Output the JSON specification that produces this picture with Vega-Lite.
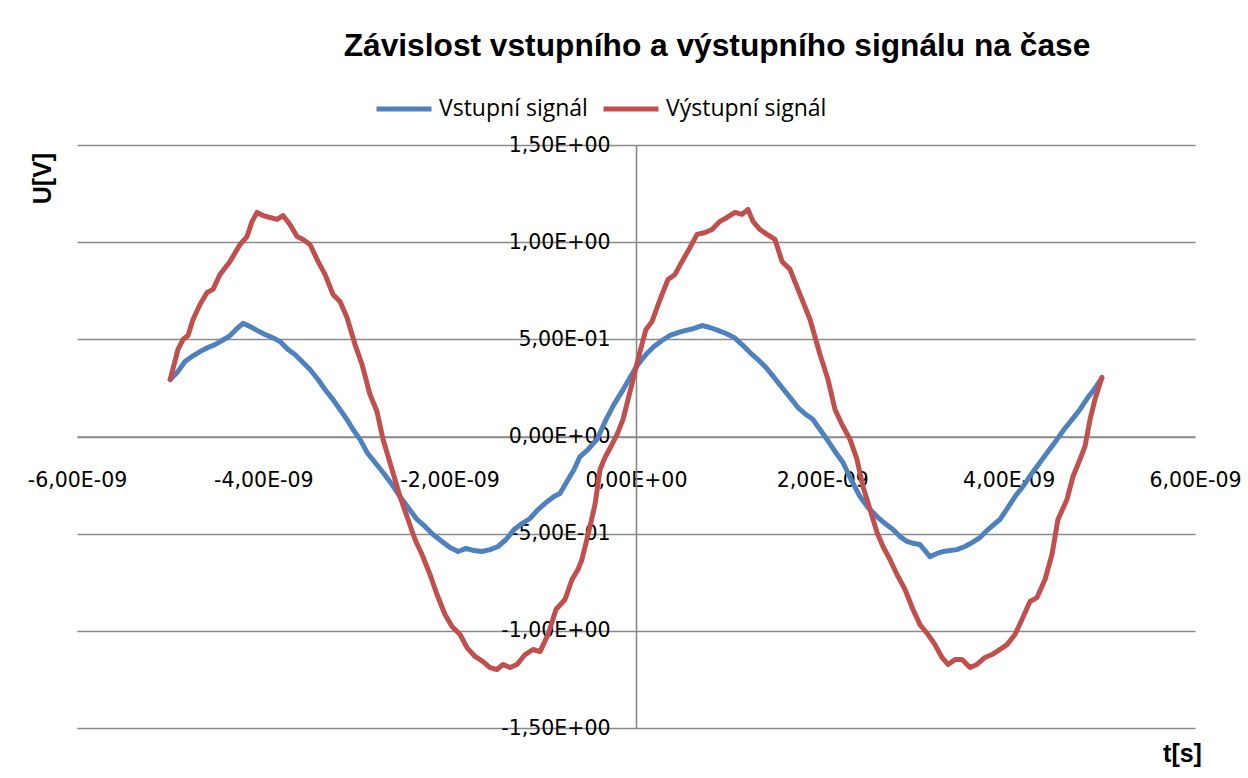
{
"$schema":"https://vega.github.io/schema/vega-lite/v6.json",
"width":1118,"height":583,
"autosize":{"type":"none"},
"padding":{"left":77,"top":145,"right":53,"bottom":50},
"background":"white",
"config":{"view":{"stroke":null}},
"title":{"text":"Závislost vstupního a výstupního signálu na čase","font":"Liberation Sans","fontSize":31.7,"fontWeight":"bold","color":"#000000","anchor":"middle","frame":"group","dx":81,"offset":-9,"baseline":"alphabetic"},
"data":{"values":[
{"s":"Vstupní signál","t":-5.0,"u":0.293},{"s":"Vstupní signál","t":-4.916,"u":0.335},{"s":"Vstupní signál","t":-4.841,"u":0.386},{"s":"Vstupní signál","t":-4.765,"u":0.412},{"s":"Vstupní signál","t":-4.68,"u":0.437},{"s":"Vstupní signál","t":-4.594,"u":0.458},{"s":"Vstupní signál","t":-4.519,"u":0.473},{"s":"Vstupní signál","t":-4.443,"u":0.494},{"s":"Vstupní signál","t":-4.368,"u":0.515},{"s":"Vstupní signál","t":-4.293,"u":0.551},{"s":"Vstupní signál","t":-4.218,"u":0.582},{"s":"Vstupní signál","t":-4.143,"u":0.566},{"s":"Vstupní signál","t":-4.068,"u":0.546},{"s":"Vstupní signál","t":-3.982,"u":0.525},{"s":"Vstupní signál","t":-3.907,"u":0.51},{"s":"Vstupní signál","t":-3.821,"u":0.489},{"s":"Vstupní signál","t":-3.735,"u":0.448},{"s":"Vstupní signál","t":-3.66,"u":0.422},{"s":"Vstupní signál","t":-3.585,"u":0.386},{"s":"Vstupní signál","t":-3.499,"u":0.345},{"s":"Vstupní signál","t":-3.413,"u":0.293},{"s":"Vstupní signál","t":-3.338,"u":0.242},{"s":"Vstupní signál","t":-3.252,"u":0.19},{"s":"Vstupní signál","t":-3.177,"u":0.139},{"s":"Vstupní signál","t":-3.102,"u":0.087},{"s":"Vstupní signál","t":-3.037,"u":0.036},{"s":"Vstupní signál","t":-2.962,"u":-0.015},{"s":"Vstupní signál","t":-2.887,"u":-0.082},{"s":"Vstupní signál","t":-2.801,"u":-0.134},{"s":"Vstupní signál","t":-2.715,"u":-0.185},{"s":"Vstupní signál","t":-2.619,"u":-0.247},{"s":"Vstupní signál","t":-2.533,"u":-0.309},{"s":"Vstupní signál","t":-2.447,"u":-0.365},{"s":"Vstupní signál","t":-2.351,"u":-0.427},{"s":"Vstupní signál","t":-2.265,"u":-0.463},{"s":"Vstupní signál","t":-2.179,"u":-0.504},{"s":"Vstupní signál","t":-2.082,"u":-0.54},{"s":"Vstupní signál","t":-1.996,"u":-0.571},{"s":"Vstupní signál","t":-1.91,"u":-0.592},{"s":"Vstupní signál","t":-1.825,"u":-0.576},{"s":"Vstupní signál","t":-1.739,"u":-0.587},{"s":"Vstupní signál","t":-1.653,"u":-0.592},{"s":"Vstupní signál","t":-1.567,"u":-0.582},{"s":"Vstupní signál","t":-1.481,"u":-0.566},{"s":"Vstupní signál","t":-1.395,"u":-0.53},{"s":"Vstupní signál","t":-1.309,"u":-0.479},{"s":"Vstupní signál","t":-1.224,"u":-0.448},{"s":"Vstupní signál","t":-1.138,"u":-0.422},{"s":"Vstupní signál","t":-1.052,"u":-0.376},{"s":"Vstupní signál","t":-0.966,"u":-0.34},{"s":"Vstupní signál","t":-0.88,"u":-0.309},{"s":"Vstupní signál","t":-0.816,"u":-0.293},{"s":"Vstupní signál","t":-0.741,"u":-0.232},{"s":"Vstupní signál","t":-0.665,"u":-0.17},{"s":"Vstupní signál","t":-0.601,"u":-0.103},{"s":"Vstupní signál","t":-0.515,"u":-0.067},{"s":"Vstupní signál","t":-0.419,"u":-0.015},{"s":"Vstupní signál","t":-0.322,"u":0.087},{"s":"Vstupní signál","t":-0.236,"u":0.165},{"s":"Vstupní signál","t":-0.15,"u":0.232},{"s":"Vstupní signál","t":-0.064,"u":0.304},{"s":"Vstupní signál","t":0.021,"u":0.371},{"s":"Vstupní signál","t":0.107,"u":0.422},{"s":"Vstupní signál","t":0.193,"u":0.463},{"s":"Vstupní signál","t":0.279,"u":0.494},{"s":"Vstupní signál","t":0.365,"u":0.52},{"s":"Vstupní signál","t":0.451,"u":0.535},{"s":"Vstupní signál","t":0.537,"u":0.546},{"s":"Vstupní signál","t":0.623,"u":0.556},{"s":"Vstupní signál","t":0.708,"u":0.571},{"s":"Vstupní signál","t":0.794,"u":0.561},{"s":"Vstupní signál","t":0.88,"u":0.546},{"s":"Vstupní signál","t":0.966,"u":0.53},{"s":"Vstupní signál","t":1.052,"u":0.51},{"s":"Vstupní signál","t":1.138,"u":0.473},{"s":"Vstupní signál","t":1.224,"u":0.432},{"s":"Vstupní signál","t":1.309,"u":0.396},{"s":"Vstupní signál","t":1.395,"u":0.355},{"s":"Vstupní signál","t":1.481,"u":0.304},{"s":"Vstupní signál","t":1.567,"u":0.252},{"s":"Vstupní signál","t":1.653,"u":0.201},{"s":"Vstupní signál","t":1.739,"u":0.149},{"s":"Vstupní signál","t":1.825,"u":0.113},{"s":"Vstupní signál","t":1.9,"u":0.087},{"s":"Vstupní signál","t":1.975,"u":0.036},{"s":"Vstupní signál","t":2.05,"u":-0.015},{"s":"Vstupní signál","t":2.136,"u":-0.077},{"s":"Vstupní signál","t":2.222,"u":-0.134},{"s":"Vstupní signál","t":2.308,"u":-0.221},{"s":"Vstupní signál","t":2.404,"u":-0.309},{"s":"Vstupní signál","t":2.49,"u":-0.365},{"s":"Vstupní signál","t":2.587,"u":-0.412},{"s":"Vstupní signál","t":2.673,"u":-0.448},{"s":"Vstupní signál","t":2.758,"u":-0.479},{"s":"Vstupní signál","t":2.834,"u":-0.515},{"s":"Vstupní signál","t":2.909,"u":-0.54},{"s":"Vstupní signál","t":2.984,"u":-0.551},{"s":"Vstupní signál","t":3.048,"u":-0.556},{"s":"Vstupní signál","t":3.102,"u":-0.587},{"s":"Vstupní signál","t":3.155,"u":-0.618},{"s":"Vstupní signál","t":3.231,"u":-0.602},{"s":"Vstupní signál","t":3.295,"u":-0.592},{"s":"Vstupní signál","t":3.37,"u":-0.587},{"s":"Vstupní signál","t":3.445,"u":-0.582},{"s":"Vstupní signál","t":3.531,"u":-0.566},{"s":"Vstupní signál","t":3.606,"u":-0.546},{"s":"Vstupní signál","t":3.692,"u":-0.52},{"s":"Vstupní signál","t":3.778,"u":-0.479},{"s":"Vstupní signál","t":3.853,"u":-0.448},{"s":"Vstupní signál","t":3.907,"u":-0.427},{"s":"Vstupní signál","t":3.993,"u":-0.365},{"s":"Vstupní signál","t":4.068,"u":-0.309},{"s":"Vstupní signál","t":4.154,"u":-0.257},{"s":"Vstupní signál","t":4.24,"u":-0.196},{"s":"Vstupní signál","t":4.336,"u":-0.134},{"s":"Vstupní signál","t":4.422,"u":-0.077},{"s":"Vstupní signál","t":4.519,"u":-0.015},{"s":"Vstupní signál","t":4.594,"u":0.036},{"s":"Vstupní signál","t":4.68,"u":0.087},{"s":"Vstupní signál","t":4.765,"u":0.139},{"s":"Vstupní signál","t":4.851,"u":0.201},{"s":"Vstupní signál","t":4.916,"u":0.242},{"s":"Vstupní signál","t":5.0,"u":0.3},
{"s":"Výstupní signál","t":-5.0,"u":0.293},{"s":"Výstupní signál","t":-4.916,"u":0.448},{"s":"Výstupní signál","t":-4.862,"u":0.499},{"s":"Výstupní signál","t":-4.808,"u":0.52},{"s":"Výstupní signál","t":-4.755,"u":0.602},{"s":"Výstupní signál","t":-4.68,"u":0.679},{"s":"Výstupní signál","t":-4.604,"u":0.741},{"s":"Výstupní signál","t":-4.54,"u":0.757},{"s":"Výstupní signál","t":-4.465,"u":0.834},{"s":"Výstupní signál","t":-4.358,"u":0.901},{"s":"Výstupní signál","t":-4.25,"u":0.988},{"s":"Výstupní signál","t":-4.175,"u":1.029},{"s":"Výstupní signál","t":-4.121,"u":1.107},{"s":"Výstupní signál","t":-4.068,"u":1.153},{"s":"Výstupní signál","t":-4.003,"u":1.137},{"s":"Výstupní signál","t":-3.928,"u":1.127},{"s":"Výstupní signál","t":-3.853,"u":1.117},{"s":"Výstupní signál","t":-3.789,"u":1.137},{"s":"Výstupní signál","t":-3.714,"u":1.091},{"s":"Výstupní signál","t":-3.638,"u":1.029},{"s":"Výstupní signál","t":-3.574,"u":1.014},{"s":"Výstupní signál","t":-3.499,"u":0.988},{"s":"Výstupní signál","t":-3.413,"u":0.901},{"s":"Výstupní signál","t":-3.338,"u":0.834},{"s":"Výstupní signál","t":-3.252,"u":0.731},{"s":"Výstupní signál","t":-3.177,"u":0.695},{"s":"Výstupní signál","t":-3.102,"u":0.612},{"s":"Výstupní signál","t":-3.016,"u":0.473},{"s":"Výstupní signál","t":-2.941,"u":0.371},{"s":"Výstupní signál","t":-2.855,"u":0.216},{"s":"Výstupní signál","t":-2.78,"u":0.129},{"s":"Výstupní signál","t":-2.715,"u":-0.015},{"s":"Výstupní signál","t":-2.619,"u":-0.17},{"s":"Výstupní signál","t":-2.533,"u":-0.309},{"s":"Výstupní signál","t":-2.447,"u":-0.427},{"s":"Výstupní signál","t":-2.372,"u":-0.53},{"s":"Výstupní signál","t":-2.297,"u":-0.607},{"s":"Výstupní signál","t":-2.211,"u":-0.71},{"s":"Výstupní signál","t":-2.136,"u":-0.813},{"s":"Výstupní signál","t":-2.05,"u":-0.916},{"s":"Výstupní signál","t":-1.975,"u":-0.978},{"s":"Výstupní signál","t":-1.889,"u":-1.019},{"s":"Výstupní signál","t":-1.814,"u":-1.086},{"s":"Výstupní signál","t":-1.728,"u":-1.132},{"s":"Výstupní signál","t":-1.642,"u":-1.158},{"s":"Výstupní signál","t":-1.567,"u":-1.189},{"s":"Výstupní signál","t":-1.492,"u":-1.199},{"s":"Výstupní signál","t":-1.427,"u":-1.173},{"s":"Výstupní signál","t":-1.352,"u":-1.189},{"s":"Výstupní signál","t":-1.277,"u":-1.173},{"s":"Výstupní signál","t":-1.191,"u":-1.122},{"s":"Výstupní signál","t":-1.106,"u":-1.096},{"s":"Výstupní signál","t":-1.03,"u":-1.107},{"s":"Výstupní signál","t":-0.944,"u":-1.019},{"s":"Výstupní signál","t":-0.859,"u":-0.89},{"s":"Výstupní signál","t":-0.762,"u":-0.839},{"s":"Výstupní signál","t":-0.687,"u":-0.736},{"s":"Výstupní signál","t":-0.623,"u":-0.685},{"s":"Výstupní signál","t":-0.58,"u":-0.633},{"s":"Výstupní signál","t":-0.494,"u":-0.463},{"s":"Výstupní signál","t":-0.44,"u":-0.35},{"s":"Výstupní signál","t":-0.386,"u":-0.17},{"s":"Výstupní signál","t":-0.333,"u":-0.108},{"s":"Výstupní signál","t":-0.258,"u":-0.041},{"s":"Výstupní signál","t":-0.204,"u":0.01},{"s":"Výstupní signál","t":-0.14,"u":0.087},{"s":"Výstupní signál","t":-0.086,"u":0.19},{"s":"Výstupní signál","t":-0.032,"u":0.293},{"s":"Výstupní signál","t":0.043,"u":0.437},{"s":"Výstupní signál","t":0.107,"u":0.551},{"s":"Výstupní signál","t":0.172,"u":0.592},{"s":"Výstupní signál","t":0.258,"u":0.705},{"s":"Výstupní signál","t":0.343,"u":0.808},{"s":"Výstupní signál","t":0.419,"u":0.834},{"s":"Výstupní signál","t":0.494,"u":0.901},{"s":"Výstupní signál","t":0.58,"u":0.973},{"s":"Výstupní signál","t":0.655,"u":1.04},{"s":"Výstupní signál","t":0.741,"u":1.05},{"s":"Výstupní signál","t":0.816,"u":1.065},{"s":"Výstupní signál","t":0.902,"u":1.107},{"s":"Výstupní signál","t":0.977,"u":1.127},{"s":"Výstupní signál","t":1.063,"u":1.153},{"s":"Výstupní signál","t":1.138,"u":1.143},{"s":"Výstupní signál","t":1.202,"u":1.168},{"s":"Výstupní signál","t":1.256,"u":1.107},{"s":"Výstupní signál","t":1.331,"u":1.065},{"s":"Výstupní signál","t":1.406,"u":1.04},{"s":"Výstupní signál","t":1.492,"u":1.014},{"s":"Výstupní signál","t":1.567,"u":0.901},{"s":"Výstupní signál","t":1.653,"u":0.86},{"s":"Výstupní signál","t":1.76,"u":0.731},{"s":"Výstupní signál","t":1.868,"u":0.602},{"s":"Výstupní signál","t":1.975,"u":0.422},{"s":"Výstupní signál","t":2.061,"u":0.293},{"s":"Výstupní signál","t":2.136,"u":0.139},{"s":"Výstupní signál","t":2.211,"u":0.062},{"s":"Výstupní signál","t":2.297,"u":-0.015},{"s":"Výstupní signál","t":2.372,"u":-0.118},{"s":"Výstupní signál","t":2.436,"u":-0.257},{"s":"Výstupní signál","t":2.512,"u":-0.376},{"s":"Výstupní signál","t":2.587,"u":-0.494},{"s":"Výstupní signál","t":2.651,"u":-0.566},{"s":"Výstupní signál","t":2.726,"u":-0.633},{"s":"Výstupní signál","t":2.801,"u":-0.71},{"s":"Výstupní signál","t":2.887,"u":-0.787},{"s":"Výstupní signál","t":2.973,"u":-0.89},{"s":"Výstupní signál","t":3.048,"u":-0.968},{"s":"Výstupní signál","t":3.134,"u":-1.019},{"s":"Výstupní signál","t":3.209,"u":-1.071},{"s":"Výstupní signál","t":3.284,"u":-1.137},{"s":"Výstupní signál","t":3.349,"u":-1.173},{"s":"Výstupní signál","t":3.424,"u":-1.148},{"s":"Výstupní signál","t":3.499,"u":-1.148},{"s":"Výstupní signál","t":3.585,"u":-1.189},{"s":"Výstupní signál","t":3.66,"u":-1.173},{"s":"Výstupní signál","t":3.746,"u":-1.137},{"s":"Výstupní signál","t":3.821,"u":-1.122},{"s":"Výstupní signál","t":3.907,"u":-1.096},{"s":"Výstupní signál","t":3.982,"u":-1.071},{"s":"Výstupní signál","t":4.068,"u":-1.019},{"s":"Výstupní signál","t":4.143,"u":-0.942},{"s":"Výstupní signál","t":4.229,"u":-0.849},{"s":"Výstupní signál","t":4.304,"u":-0.829},{"s":"Výstupní signál","t":4.39,"u":-0.736},{"s":"Výstupní signál","t":4.465,"u":-0.607},{"s":"Výstupní signál","t":4.529,"u":-0.427},{"s":"Výstupní signál","t":4.626,"u":-0.324},{"s":"Výstupní signál","t":4.69,"u":-0.206},{"s":"Výstupní signál","t":4.765,"u":-0.118},{"s":"Výstupní signál","t":4.819,"u":-0.051},{"s":"Výstupní signál","t":4.873,"u":0.087},{"s":"Výstupní signál","t":4.926,"u":0.19},{"s":"Výstupní signál","t":5.0,"u":0.304}
]},
"mark":{"type":"line","strokeWidth":5,"strokeJoin":"round","strokeCap":"round"},
"encoding":{
"x":{"field":"t","type":"quantitative","scale":{"domain":[-6,6],"nice":false,"zero":false},
 "axis":{"orient":"bottom","offset":-291.5,"values":[-6,-4,-2,0,2,4,6],"grid":false,"domain":true,"domainColor":"#8a8a8a","domainWidth":1.6,"ticks":false,"tickSize":0,
 "labelExpr":"datum.value==0 ? '0,00E+00' : (datum.value<0?'-':'') + replace(format(abs(datum.value),'.2f'),'.',',') + 'E-09'",
 "labelFont":"DejaVu Sans","labelFontSize":20.5,"labelColor":"#000000","labelBaseline":"alphabetic","labelPadding":50,"labelOverlap":false,"labelFlush":false,
 "title":"t[s]","titleFont":"Liberation Sans","titleFontWeight":"bold","titleFontSize":25,"titleColor":"#000000","titleX":1105,"titleY":325,"titleAlign":"center","titleBaseline":"alphabetic"}},
"y":{"field":"u","type":"quantitative","scale":{"domain":[-1.5,1.5],"nice":false},
 "axis":{"orient":"left","offset":-559,"values":[-1.5,-1,-0.5,0,0.5,1,1.5],"grid":true,"gridColor":"#8a8a8a","gridWidth":1.6,"domain":true,"domainColor":"#8a8a8a","domainWidth":1.6,"ticks":false,"tickSize":0,
 "labelExpr":"(datum.value<0?'-':'') + replace(replace(replace(format(abs(datum.value),'.2e'),'.',','),'e-','E-0'),'e+','E+0')",
 "labelFont":"DejaVu Sans","labelFontSize":20.5,"labelColor":"#000000","labelPadding":26,"labelOverlap":false,"labelFlush":false,
 "title":"U[V]","titleFont":"Liberation Sans","titleFontWeight":"bold","titleFontSize":25,"titleColor":"#000000","titleAngle":-90,"titleX":-586,"titleY":33,"titleAlign":"center","titleBaseline":"alphabetic"}},
"color":{"field":"s","type":"nominal","scale":{"domain":["Vstupní signál","Výstupní signál"],"range":["#4F81BD","#C0504D"]},
 "legend":{"orient":"none","legendX":297,"legendY":-66,"direction":"horizontal","title":null,"symbolType":"stroke","symbolSize":3025,"symbolStrokeWidth":5,"labelFont":"Open Sans","labelFontSize":23,"labelColor":"#000000","labelOffset":5,"labelLimit":0,"columnPadding":5,"padding":0}}
}
}
